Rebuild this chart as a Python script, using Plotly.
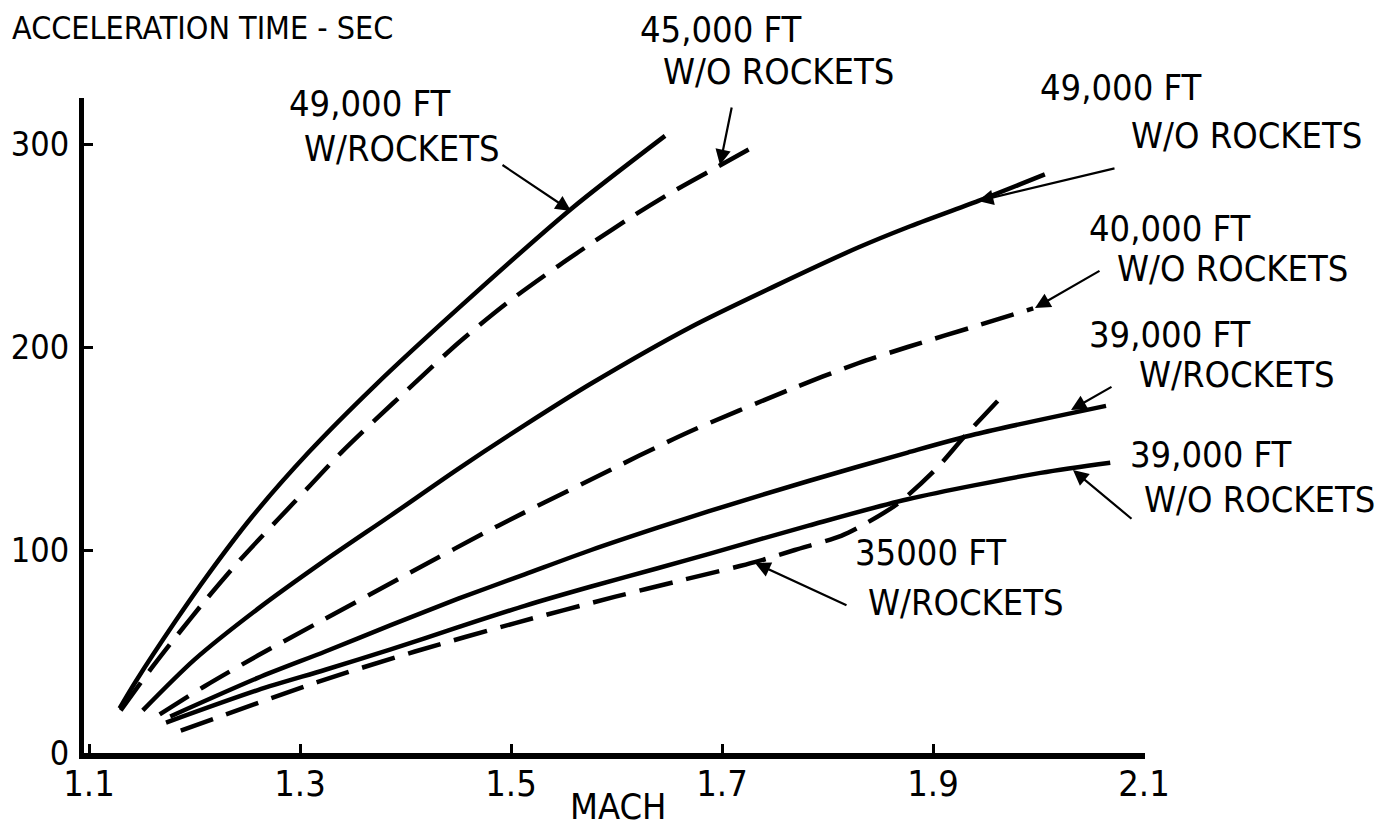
import plotly.graph_objects as go

# ---------------- data ----------------
mach_49k_wr = [1.129, 1.144, 1.182, 1.213, 1.254, 1.308, 1.371, 1.450, 1.557, 1.646]
time_49k_wr = [22, 35, 65, 88, 116, 148, 181, 219, 268, 304]

mach_45k_wo = [1.130, 1.161, 1.182, 1.210, 1.243, 1.279, 1.310, 1.339, 1.371, 1.402,
               1.450, 1.497, 1.545, 1.576, 1.614, 1.655, 1.693, 1.731]
time_45k_wo = [21, 43, 57, 75, 95, 115, 132, 148, 164, 179,
               202, 222, 240, 251, 264, 277, 288, 299]

mach_49k_wo = [1.151, 1.200, 1.260, 1.324, 1.386, 1.450, 1.513, 1.576, 1.671, 1.750,
               1.829, 1.876, 1.943, 2.006]
time_49k_wo = [21, 46, 71, 95, 117, 140, 161.5, 182, 210, 230,
               249, 259, 272, 285]

mach_40k_wo = [1.167, 1.210, 1.260, 1.320, 1.405, 1.488, 1.573, 1.668, 1.769, 1.829,
               1.876, 1.945, 1.995]
time_40k_wo = [19, 33, 48, 65, 89, 112, 134, 158, 180, 192,
               200, 211, 219]

mach_39k_wr = [1.177, 1.260, 1.324, 1.386, 1.450, 1.513, 1.576, 1.639, 1.687, 1.782,
               1.876, 1.940, 2.064]
time_39k_wr = [18, 37, 50, 63, 76, 88, 100, 111, 119, 134,
               148, 157, 171]

mach_39k_wo = [1.173, 1.260, 1.324, 1.386, 1.450, 1.513, 1.576, 1.639, 1.687, 1.782,
               1.876, 2.002, 2.068]
time_39k_wo = [15, 31, 41, 51, 62, 72.5, 82, 91, 98, 112,
               125, 138, 143]

mach_35k_wr = [1.187, 1.317, 1.409, 1.504, 1.599, 1.661, 1.731, 1.769, 1.813, 1.836,
               1.867, 1.903, 1.930, 1.966]
time_35k_wr = [11, 35, 50, 64, 77, 85, 94, 100, 107, 113,
               123, 140, 156, 176]

x_ticks = [1.1, 1.3, 1.5, 1.7, 1.9, 2.1]
x_tick_labels = ["1.1", "1.3", "1.5", "1.7", "1.9", "2.1"]
y_ticks = [0, 100, 200, 300]
y_tick_labels = ["0", "100", "200", "300"]

series = [
    ("49,000 FT W/ROCKETS", mach_49k_wr, time_49k_wr, "solid"),
    ("45,000 FT W/O ROCKETS", mach_45k_wo, time_45k_wo, "dashed"),
    ("49,000 FT W/O ROCKETS", mach_49k_wo, time_49k_wo, "solid"),
    ("40,000 FT W/O ROCKETS", mach_40k_wo, time_40k_wo, "dashed"),
    ("39,000 FT W/ROCKETS", mach_39k_wr, time_39k_wr, "solid"),
    ("39,000 FT W/O ROCKETS", mach_39k_wo, time_39k_wo, "solid"),
    ("35000 FT W/ROCKETS", mach_35k_wr, time_35k_wr, "dashed"),
]

# ---------------- layout helpers (pixel placement) ----------------
W, H = 1384, 833
PL, PR, PT, PB = 76, 1137, 90, 745          # plot area in pixels
X0_PX, X_PER = 81, 1055.0                    # Mach 1.1 at px 81, px per Mach unit
Y_PER = 2.03                                  # px per second


def px2x(px):
    return 1.1 + (px - X0_PX) / X_PER


def py2y(py):
    return (PB - py) / Y_PER


def px2paper(px):
    return (px - PL) / (PR - PL)


def py2paper(py):
    return (PB - py) / (PB - PT)


FONT = "DejaVu Sans Condensed, Liberation Sans Narrow, Arial Narrow, sans-serif"

fig = go.Figure()
for name, xs, ys, style in series:
    fig.add_trace(go.Scatter(
        x=xs, y=ys, mode="lines", name=name,
        line=dict(color="black", width=4.5, shape="spline", smoothing=0.8,
                  dash="solid" if style == "solid" else "34px,14px"),
        hoverinfo="name+x+y",
    ))

labels = [  # text, x px, y px (box centre), anchor, size
    ("ACCELERATION TIME - SEC", 2, 20, "left", 32),
    ("49,000 FT", 362, 96, "center", 36),
    ("W/ROCKETS", 394, 140, "center", 36),
    ("45,000 FT", 713, 22, "center", 36),
    ("W/O ROCKETS", 770, 64, "center", 36),
    ("49,000 FT", 1113, 80, "center", 36),
    ("W/O ROCKETS", 1238, 128, "center", 36),
    ("40,000 FT", 1162, 221, "center", 36),
    ("W/O ROCKETS", 1224, 260, "center", 36),
    ("39,000 FT", 1162, 326, "center", 36),
    ("W/ROCKETS", 1229, 367, "center", 36),
    ("39,000 FT", 1203, 446, "center", 36),
    ("W/O ROCKETS", 1251, 491, "center", 36),
    ("35000 FT", 922, 544, "center", 36),
    ("W/ROCKETS", 958, 594, "center", 36),
    ("MACH", 610, 798, "center", 36),
]
annotations = []
for text, cx, cy, anchor, size in labels:
    annotations.append(dict(
        x=px2paper(cx), y=py2paper(cy), xref="paper", yref="paper", text=text,
        showarrow=False, xanchor=anchor, yanchor="middle",
        font=dict(family=FONT, size=size, color="black"),
    ))

arrows = [  # tail (px) -> tip (px)
    (493, 156, 563, 203),
    (724, 98, 712, 157),
    (1108, 160, 970, 193),
    (1093, 262, 1027, 300),
    (1105, 378, 1063, 402),
    (1125, 512, 1065, 462),
    (840, 598, 747, 555),
]
for tx, ty, hx, hy in arrows:
    annotations.append(dict(
        x=px2paper(hx), y=py2paper(hy), xref="paper", yref="paper",
        ax=tx - hx, ay=ty - hy, axref="pixel", ayref="pixel",
        text="", showarrow=True, arrowhead=2, arrowsize=1.4, arrowwidth=2.2,
        arrowcolor="black",
    ))

fig.update_layout(
    width=W, height=H, autosize=False,
    margin=dict(l=PL, r=W - PR, t=PT, b=H - PB, pad=0, autoexpand=False),
    paper_bgcolor="white", plot_bgcolor="white",
    showlegend=False,
    annotations=annotations,
    xaxis=dict(
        range=[px2x(PL), px2x(PR)], tickvals=x_ticks, ticktext=x_tick_labels,
        showline=True, linewidth=6, linecolor="black", ticks="inside", ticklen=9,
        tickwidth=3, tickcolor="black", showgrid=False, zeroline=False,
        automargin=False,
        tickfont=dict(family=FONT, size=36, color="black"), ticklabelstandoff=-6,
    ),
    yaxis=dict(
        range=[0, py2y(PT)], tickvals=y_ticks, ticktext=y_tick_labels,
        showline=True, linewidth=5, linecolor="black", ticks="inside", ticklen=9,
        tickwidth=3, tickcolor="black", showgrid=False, zeroline=False,
        automargin=False,
        tickfont=dict(family=FONT, size=34, color="black"), ticklabelstandoff=3,
    ),
)

fig.write_html("out.html")
